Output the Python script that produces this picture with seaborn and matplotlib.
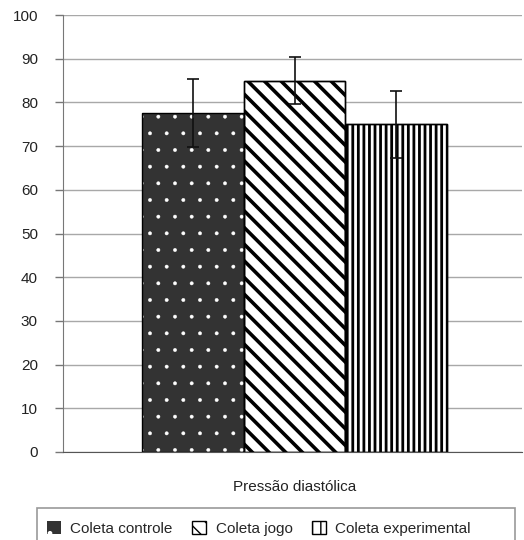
import matplotlib
matplotlib.use("Agg")
import matplotlib.pyplot as plt
from matplotlib.patches import Patch, Rectangle
import seaborn as sns
import pandas as pd

# Data
groups = ["Coleta controle", "Coleta jogo", "Coleta experimental"]
means = [77.5, 85.0, 75.0]
errors = [7.8, 5.4, 7.6]
category = "Pressão diastólica"

face_colors = ["#333333", "white", "white"]
hatches = [".", "\\\\", "|||"]
hatch_colors = ["white", "black", "black"]
hatch_widths = [0.3, 2.6, 2.0]

sns.set_style("white")
plt.rcParams["font.family"] = ["Liberation Sans", "DejaVu Sans"]

df = pd.DataFrame({"grupo": groups, "valor": means, "cat": [category] * 3})

fig = plt.figure(figsize=(5.24, 5.40), dpi=100)
ax = fig.add_axes([0.12, 0.163, 0.876, 0.809])

sns.barplot(data=df, x="cat", y="valor", hue="grupo", hue_order=groups,
            width=0.67, errorbar=None, ax=ax, legend=False)


def style_patch(p, fc, h, hc, hw):
    p.set_facecolor(fc)
    p.set_hatch(h)
    # hatch colour follows the edge colour
    p.set_edgecolor(hc)
    p.set_linewidth(0 if hc == "white" else 1.0)
    if hasattr(p, "set_hatch_linewidth"):
        p.set_hatch_linewidth(hw)


for p, fc, h, hc, hw, err, m in zip(list(ax.patches), face_colors, hatches, hatch_colors,
                                     hatch_widths, errors, means):
    style_patch(p, fc, h, hc, hw)
    # black outline on top
    ax.add_patch(Rectangle(p.get_xy(), p.get_width(), p.get_height(), fill=False,
                           edgecolor="black", linewidth=1.0, zorder=p.get_zorder() + 0.1))
    cx = p.get_x() + p.get_width() / 2
    ax.errorbar(cx, m, yerr=err, fmt="none", ecolor="#111111",
                elinewidth=1.2, capsize=4.5, capthick=1.2, zorder=5)

ax.set_ylim(0, 100)
ax.set_xlim(-0.51, 0.5)
ax.set_yticks(range(0, 101, 10))
ax.yaxis.grid(True, color="#a8a8a8", linewidth=1.0)
ax.set_axisbelow(True)
ax.tick_params(axis="y", direction="out", length=6, width=1, color="#777777",
               labelsize=11, labelcolor="#222222", left=True, pad=12)
ax.tick_params(axis="x", length=0, labelsize=11, labelcolor="#222222", pad=20)
ax.set_xlabel("")
ax.set_ylabel("")
for s in ["top", "right"]:
    ax.spines[s].set_visible(False)
ax.spines["left"].set_color("#777777")
ax.spines["bottom"].set_color("#555555")

# Legend
handles = []
for fc, h, hc, hw in zip(face_colors, hatches, hatch_colors, hatch_widths):
    if hc == "white":
        hp = Patch(facecolor=fc, hatch=h, edgecolor="white", linewidth=0)
    else:
        hp = Patch(facecolor=fc, hatch=h[:2], edgecolor="black", linewidth=1.0)
    if hasattr(hp, "set_hatch_linewidth"):
        hp.set_hatch_linewidth(min(hw, 1.2))
    handles.append(hp)
leg = fig.legend(handles, groups, loc="center left", bbox_to_anchor=(0.063, 0.022),
                 ncol=3, frameon=False, fontsize=11, handlelength=0.95,
                 handleheight=0.95, columnspacing=1.25, handletextpad=0.6)

# legend box
fig.patches.append(Rectangle((0.071, -0.05), 0.912, 0.109, transform=fig.transFigure,
                             fill=False, edgecolor="#999999", linewidth=1.2))

fig.savefig("out.png", dpi=100)
